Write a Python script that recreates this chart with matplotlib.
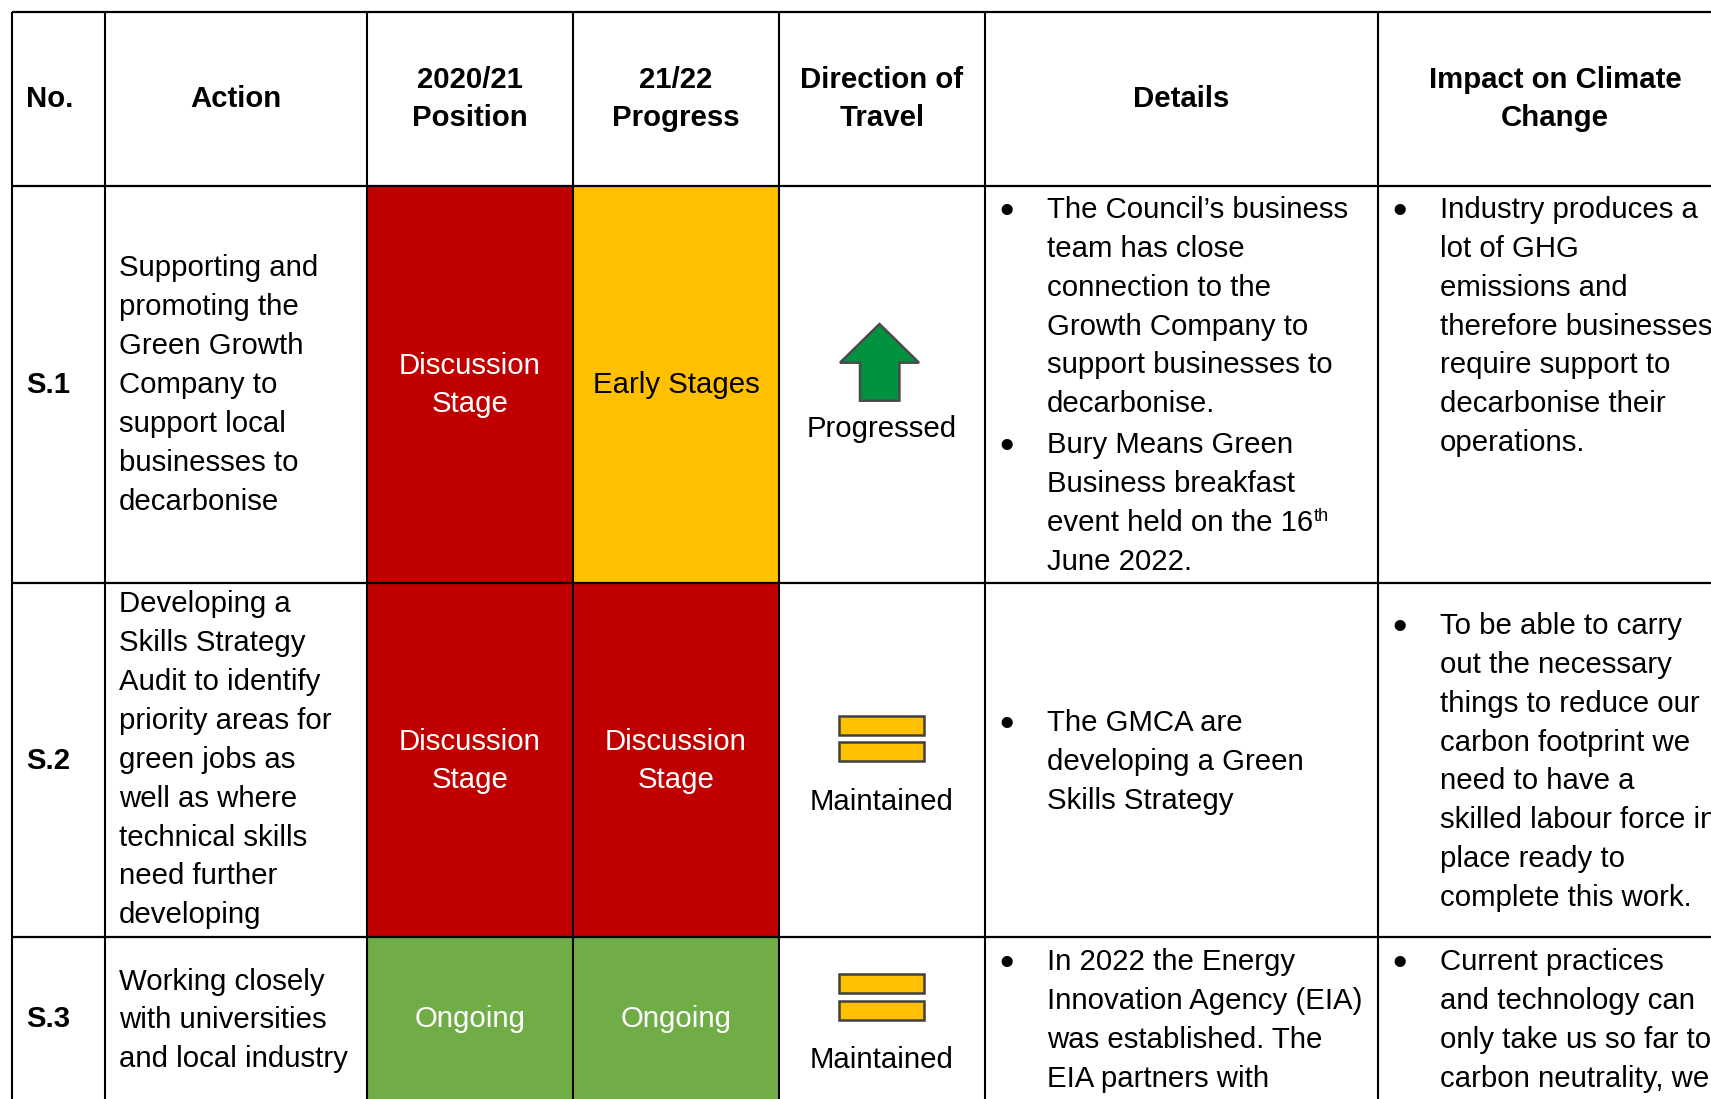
import matplotlib
matplotlib.use("Agg")
import matplotlib.pyplot as plt
from matplotlib.patches import Rectangle, Polygon

plt.rcParams['font.family'] = ['Liberation Sans', 'DejaVu Sans']

# ---- content ----
headers = ["No.", "Action", "2020/21\nPosition", "21/22\nProgress", "Direction of\nTravel",
           "Details", "Impact on Climate\nChange"]
row_ids = ["S.1", "S.2", "S.3"]
actions = [
    ["Supporting and", "promoting the", "Green Growth", "Company to", "support local", "businesses to", "decarbonise"],
    ["Developing a", "Skills Strategy", "Audit to identify", "priority areas for", "green jobs as", "well as where",
     "technical skills", "need further", "developing"],
    ["Working closely", "with universities", "and local industry"],
]
position_2021 = ["Discussion\nStage", "Discussion\nStage", "Ongoing"]
progress_2122 = ["Early Stages", "Discussion\nStage", "Ongoing"]
direction = ["Progressed", "Maintained", "Maintained"]
details = [
    [["The Council\u2019s business", "team has close", "connection to the", "Growth Company to",
      "support businesses to", "decarbonise."],
     ["Bury Means Green", "Business breakfast", "event held on the 16", "June 2022."]],
    [["The GMCA are", "developing a Green", "Skills Strategy"]],
    [["In 2022 the Energy", "Innovation Agency (EIA)", "was established. The", "EIA partners with"]],
]
impact = [
    [["Industry produces a", "lot of GHG", "emissions and", "therefore businesses", "require support to",
      "decarbonise their", "operations."]],
    [["To be able to carry", "out the necessary", "things to reduce our", "carbon footprint we", "need to have a",
      "skilled labour force in", "place ready to", "complete this work."]],
    [["Current practices", "and technology can", "only take us so far to", "carbon neutrality, we"]],
]
status_colors = {"Discussion\nStage": "#C00000", "Early Stages": "#FFC000", "Ongoing": "#70AD47"}
status_text = {"Discussion\nStage": "white", "Early Stages": "black", "Ongoing": "white"}

# ---- layout (pixels) ----
W, H = 1711, 1099
col_x = [12.5, 105, 367, 573, 779, 985, 1378, 1732]
row_y = [12, 186, 583, 937, 1102]
LH = 38.85
FS = 21.2
CENTERS = [(col_x[i] + col_x[i + 1]) / 2 for i in range(7)]
action_base = [276.5, 612.5, 989.5]
details_base = [[218, 453], [731], [970]]
impact_base = [[218], [634], [970]]
status_base = [393, 769, 1027]
dir_base = [437, 809.5, 1067.5]

fig = plt.figure(figsize=(W / 100, H / 100), dpi=100)
ax = fig.add_axes([0, 0, 1, 1])
ax.set_xlim(0, W)
ax.set_ylim(H, 0)
ax.axis("off")


def T(x, y, s, ha="left", color="black", weight="normal", size=FS):
    return ax.text(x, y, s, ha=ha, va="baseline", color=color, fontweight=weight, fontsize=size)


def centered_block(cx, base_mid, s, **kw):
    lines = s.split("\n")
    for i, ln in enumerate(lines):
        T(cx, base_mid + (i - (len(lines) - 1) / 2) * LH, ln, ha="center", **kw)


# status fills
for r in range(3):
    for c, col in ((2, position_2021), (3, progress_2122)):
        ax.add_patch(Rectangle((col_x[c], row_y[r + 1]), col_x[c + 1] - col_x[c], row_y[r + 2] - row_y[r + 1],
                               facecolor=status_colors[col[r]], edgecolor="none", zorder=1))

# grid
for x in col_x[:-1]:
    ax.plot([x, x], [row_y[0], H + 5], color="black", lw=1.5, zorder=3, solid_capstyle="butt")
for y in row_y[:-1]:
    ax.plot([col_x[0], W + 5], [y, y], color="black", lw=1.6, zorder=3, solid_capstyle="butt")

# header
T(26, 107, headers[0], weight="bold")
for c in range(1, 6):
    centered_block(CENTERS[c], 107, headers[c], weight="bold")
centered_block(1555, 107, headers[6], weight="bold")

# body
for r in range(3):
    T(26, status_base[r], row_ids[r], weight="bold")
    for i, ln in enumerate(actions[r]):
        T(119, action_base[r] + i * LH, ln)
    for col in (position_2021, progress_2122):
        c = 2 if col is position_2021 else 3
        centered_block(CENTERS[c], status_base[r], col[r], color=status_text[col[r]])
    T(CENTERS[4], dir_base[r], direction[r], ha="center")

    for paras, bases, xb, xt in ((details[r], details_base[r], 999, 1047), (impact[r], impact_base[r], 1392, 1440)):
        for para, b in zip(paras, bases):
            T(xb, b + 5, "\u2022", size=FS * 1.4)
            for i, ln in enumerate(para):
                t = T(xt, b + i * LH, ln)
                if ln.endswith("the 16"):
                    bb = t.get_window_extent(fig.canvas.get_renderer())
                    T(bb.x1 + 1, b + i * LH - 10, "th", size=FS * 0.62)

# direction icons
ax.add_patch(Polygon([(879.5, 324), (919, 362.7), (899.4, 362.7), (899.4, 400.7), (860, 400.7), (860, 362.7), (840, 362.7)],
                     closed=True, facecolor="#00923F", edgecolor="#4A4A4A", lw=1.8, zorder=4))
for top in (715.5, 742, 974, 1000.7):
    ax.add_patch(Rectangle((839.5, top), 84.5, 19, facecolor="#FFC000", edgecolor="#404040", lw=1.8, zorder=4))

fig.savefig("out.png", dpi=100, facecolor="white")
